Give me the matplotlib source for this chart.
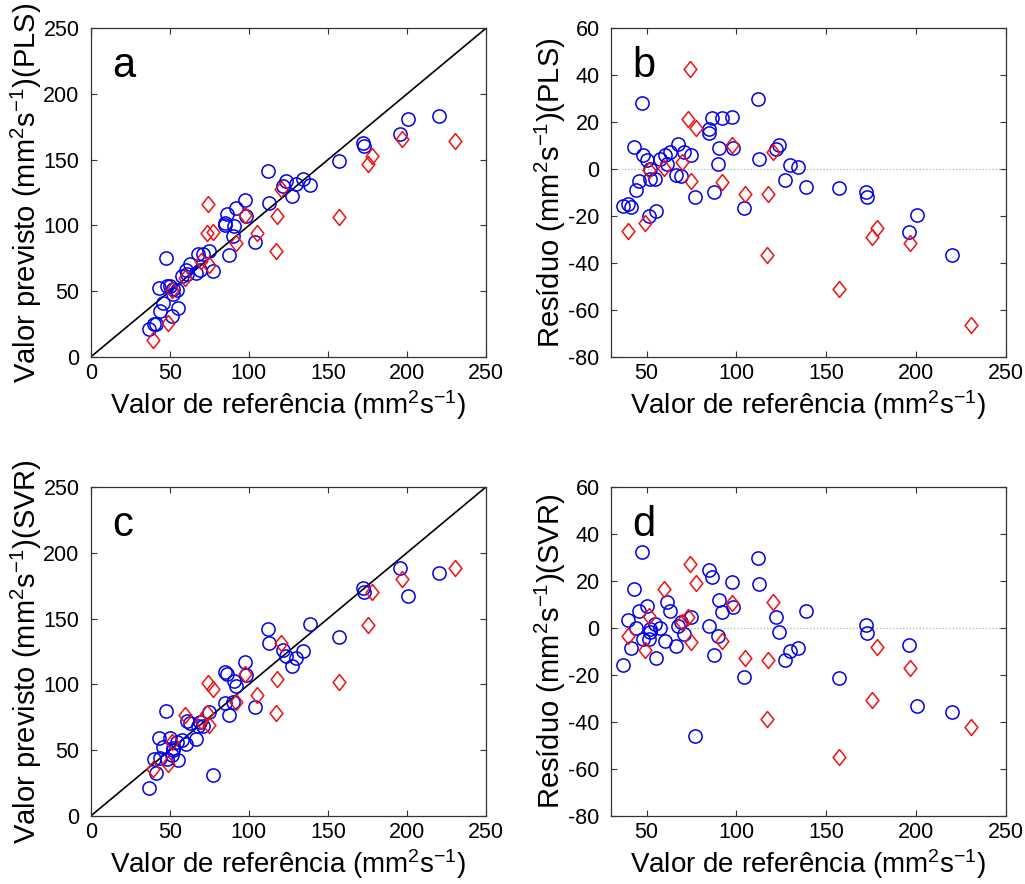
import numpy as np
import matplotlib
matplotlib.use('Agg')
import matplotlib.pyplot as plt

plt.rcParams['font.family'] = 'Liberation Sans'
plt.rcParams['mathtext.fontset'] = 'custom'
plt.rcParams['mathtext.rm'] = 'Liberation Sans'
plt.rcParams['mathtext.it'] = 'Liberation Sans:italic'
plt.rcParams['axes.unicode_minus'] = False

# reference values (training set, blue circles)
ref_train = [47.6, 112.0, 86.5, 91.8, 97.7, 84.8, 84.8, 42.9, 67.6, 90.5,
             98.1, 123.5, 121.8, 48.1, 50.3, 62.9, 60.2, 70.9, 74.6, 57.7,
             61.1, 89.8, 112.7, 129.8, 134.4, 51.8, 66.6, 68.9, 45.7, 51.8,
             54.6, 127.2, 44.0, 138.5, 87.7, 77.2, 37.0, 39.8, 41.5, 104.0,
             51.3, 55.2, 157.1, 172.2, 172.6, 200.4, 195.9, 220.2]
pls_train = [75.6, 141.8, 108.4, 113.4, 119.7, 101.8, 100.4, 52.2, 78.2, 99.4,
             107.0, 133.8, 130.3, 54.2, 54.3, 70.4, 66.3, 78.0, 80.5, 61.9,
             63.2, 92.2, 116.9, 131.5, 135.4, 51.8, 64.2, 66.1, 40.7, 47.8,
             50.6, 122.7, 35.1, 130.7, 77.8, 65.2, 21.4, 24.9, 25.2, 87.4,
             31.2, 37.2, 149.0, 162.4, 160.6, 180.9, 169.3, 183.5]
svr_train = [80.1, 141.8, 108.0, 98.7, 117.4, 109.5, 85.8, 59.5, 68.6, 102.4,
             107.2, 121.7, 126.3, 43.4, 59.5, 70.3, 54.5, 68.3, 79.1, 57.8,
             72.0, 86.3, 131.4, 119.9, 125.7, 51.4, 58.8, 71.4, 52.8, 50.3,
             56.3, 113.7, 44.0, 145.6, 76.4, 31.4, 21.4, 43.3, 33.0, 83.0,
             46.6, 42.4, 135.8, 173.4, 170.3, 167.3, 188.8, 184.4]

# reference values (test set, red diamonds)
ref_test = [39.4, 49.2, 51.3, 59.8, 69.8, 73.3, 73.9, 75.0, 77.6, 92.0,
            97.4, 105.0, 117.2, 117.7, 120.2, 157.2, 175.4, 178.2, 196.9, 230.4]
pls_test = [13.2, 26.1, 50.9, 60.1, 72.9, 94.5, 116.7, 70.0, 95.3, 86.6,
            107.6, 94.4, 80.7, 107.1, 127.7, 106.3, 146.4, 153.2, 165.5, 164.2]
svr_test = [35.9, 39.8, 56.5, 76.4, 72.4, 78.1, 101.0, 68.9, 96.7, 86.3,
            108.2, 92.2, 78.5, 104.2, 131.4, 102.2, 144.9, 170.2, 180.0, 188.2]

unit = ' (mm$^2$s$^{-1}$)'
xlabel = 'Valor de referência' + unit
diamond = [(0, 1), (0.8, 0), (0, -1), (-0.8, 0), (0, 1)]


def style_axes(ax):
    ax.tick_params(direction='in', top=True, right=True, length=4,
                   labelsize=15.5, color='#333333')
    ax.tick_params(axis='x', pad=4)
    ax.tick_params(axis='y', pad=8)
    for s in ax.spines.values():
        s.set_color('#333333')
        s.set_linewidth(0.9)
    ax.set_xlabel(xlabel, fontsize=20, va='top')
    ax.xaxis.set_label_coords(0.5, -0.095)


def draw_points(ax, x_train, y_train, x_test, y_test):
    ax.plot(x_train, y_train, 'o', mfc='none', mec='#0000ee', ms=9.5, mew=1.1)
    ax.plot(x_test, y_test, marker=diamond, ls='None', mfc='none',
            mec='#ee1111', ms=11.5, mew=1.1)


def plot_pred(ax, pred_train, pred_test, model, letter):
    ax.plot([0, 250], [0, 250], color='black', lw=1.2, zorder=1)
    draw_points(ax, ref_train, pred_train, ref_test, pred_test)
    ax.set_xlim(0, 250)
    ax.set_ylim(0, 250)
    ax.set_xticks(np.arange(0, 251, 50))
    ax.set_yticks(np.arange(0, 251, 50))
    style_axes(ax)
    ax.set_ylabel('Valor previsto' + unit + '(' + model + ')', fontsize=21)
    ax.yaxis.set_label_coords(-0.117, 0.5)
    ax.text(0.055, 0.885, letter, transform=ax.transAxes, fontsize=30, va='center')


def plot_res(ax, pred_train, pred_test, model, letter):
    res_train = np.array(pred_train) - np.array(ref_train)
    res_test = np.array(pred_test) - np.array(ref_test)
    ax.axhline(0, color='#b0b0b0', lw=0.9, ls=':', zorder=1)
    draw_points(ax, ref_train, res_train, ref_test, res_test)
    ax.set_xlim(30, 250)
    ax.set_ylim(-80, 60)
    ax.set_xticks(np.arange(50, 251, 50))
    ax.set_yticks(np.arange(-80, 61, 20))
    style_axes(ax)
    ax.set_ylabel('Resíduo' + unit + '(' + model + ')', fontsize=21)
    ax.yaxis.set_label_coords(-0.107, 0.5)
    ax.text(0.055, 0.885, letter, transform=ax.transAxes, fontsize=30, va='center')


fig = plt.figure(figsize=(10.25, 8.84), dpi=100)
ax_a = fig.add_axes([0.0885, 0.5962, 0.3856, 0.3718])
ax_b = fig.add_axes([0.5958, 0.5962, 0.3854, 0.3718])
ax_c = fig.add_axes([0.0885, 0.0769, 0.3856, 0.3722])
ax_d = fig.add_axes([0.5958, 0.0769, 0.3854, 0.3722])

plot_pred(ax_a, pls_train, pls_test, 'PLS', 'a')
plot_res(ax_b, pls_train, pls_test, 'PLS', 'b')
plot_pred(ax_c, svr_train, svr_test, 'SVR', 'c')
plot_res(ax_d, svr_train, svr_test, 'SVR', 'd')

fig.savefig('out.png', dpi=100)
